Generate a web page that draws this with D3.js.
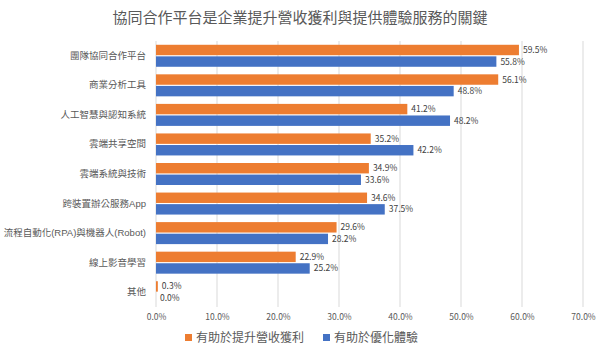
<!DOCTYPE html>
<html><head><meta charset="utf-8">
<script src="https://cdn.jsdelivr.net/npm/d3@7"></script>
<style>body{margin:0;background:#fff;}svg{display:block;}</style>
</head><body><svg id="c" width="600" height="352"></svg>
<script>
const title = "協同合作平台是企業提升營收獲利與提供體驗服務的關鍵";
const categories = ["團隊協同合作平台","商業分析工具","人工智慧與認知系統","雲端共享空間","雲端系統與技術","跨裝置辦公服務App","流程自動化(RPA)與機器人(Robot)","線上影音學習","其他"];
const seriesNames = ["有助於提升營收獲利","有助於優化體驗"];
const revenue = [59.5,56.1,41.2,35.2,34.9,34.6,29.6,22.9,0.3];
const experience = [55.8,48.8,48.2,42.2,33.6,37.5,28.2,25.2,0.0];
const xTicks = [0,10,20,30,40,50,60,70];
const colors = ["#ED7D31","#4472C4"];

const svg = d3.select("#c");
const font = "'Noto Sans CJK TC','Noto Sans',sans-serif";
const labFont = "'Liberation Sans','Noto Sans CJK TC',sans-serif";
const x = d3.scaleLinear().domain([0,70]).range([156,583]);
const y = d3.scaleBand().domain(categories).range([41,307]);
const inner = d3.scaleBand().domain([0,1]).range([0,22]).paddingInner(0.1);

svg.append("text").attr("x",300).attr("y",23).attr("text-anchor","middle")
  .attr("font-family",font).attr("font-size",15).attr("fill","#595959").text(title);

// gridlines
svg.append("g").selectAll("line").data(xTicks.slice(1)).join("line")
  .attr("x1",d=>x(d)).attr("x2",d=>x(d)).attr("y1",41).attr("y2",307)
  .attr("stroke","#d9d9d9").attr("stroke-width",1);

// axis tick labels
const xAxis = d3.axisBottom(x).tickValues(xTicks).tickFormat(d=>d.toFixed(1)+"%").tickSize(0).tickPadding(0);
const gx = svg.append("g").attr("transform","translate(0,314)").call(xAxis);
gx.select(".domain").remove();
gx.selectAll("text").attr("font-family",font).attr("font-size",8.5).attr("fill","#595959");

// y axis line
svg.append("line").attr("x1",x(0)).attr("x2",x(0)).attr("y1",41).attr("y2",307)
  .attr("stroke","#d9d9d9");

const yAxis = d3.axisLeft(y).tickSize(0).tickPadding(10);
const gy = svg.append("g").attr("transform",`translate(${x(0)},0)`).call(yAxis);
gy.select(".domain").remove();
gy.selectAll("text").attr("font-family",labFont).attr("font-size",9.5).attr("fill","#595959");

const series = [revenue, experience];
series.forEach((vals,si)=>{
  const off = y.bandwidth()/2 - 11 + inner(si);
  const g = svg.append("g");
  g.selectAll("rect").data(vals).join("rect")
    .attr("x",x(0)).attr("y",(d,i)=>y(categories[i])+off)
    .attr("width",d=>x(d)-x(0)).attr("height",inner.bandwidth())
    .attr("fill",colors[si]);
  g.selectAll("text").data(vals).join("text")
    .attr("x",d=>x(d)+4).attr("y",(d,i)=>y(categories[i])+off+inner.bandwidth()/2)
    .attr("dy","0.35em").attr("font-family",font).attr("font-size",8.5).attr("fill","#404040")
    .text(d=>d.toFixed(1)+"%");
});

// legend
const leg = svg.append("g");
const legX = [185, 323];
seriesNames.forEach((n,i)=>{
  leg.append("rect").attr("x",legX[i]).attr("y",334).attr("width",7).attr("height",7).attr("fill",colors[i]);
  leg.append("text").attr("x",legX[i]+11).attr("y",338).attr("dy","0.35em")
    .attr("font-family",font).attr("font-size",12).attr("fill","#595959").text(n);
});
</script></body></html>
